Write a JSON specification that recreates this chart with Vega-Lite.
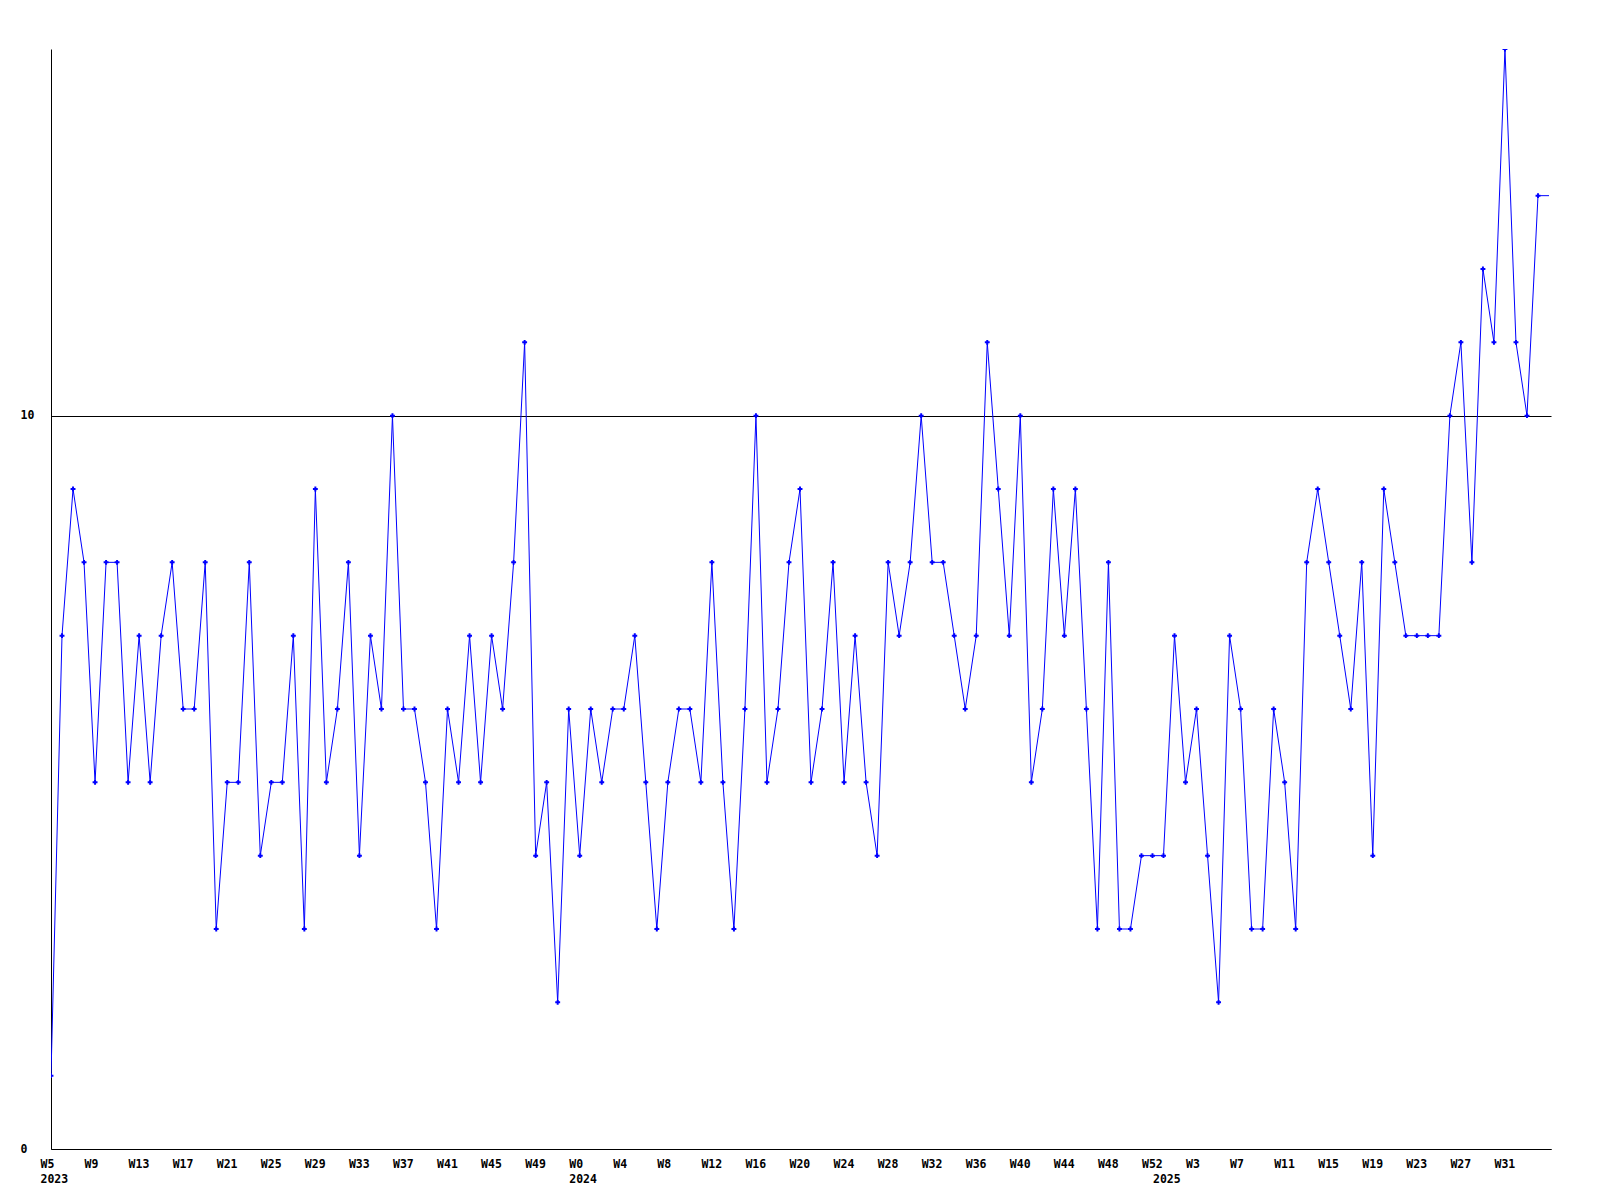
{
  "$schema": "https://vega.github.io/schema/vega-lite/v6.json",
  "width": 1500,
  "height": 1100,
  "autosize": "none",
  "padding": {"left": 51, "top": 49, "right": 49, "bottom": 51},
  "background": "white",
  "config": {
    "view": {"stroke": null},
    "font": "DejaVu Sans Mono",
    "axis": {
      "labelFont": "DejaVu Sans Mono",
      "labelFontWeight": "bold",
      "labelFontSize": 11.5,
      "labelColor": "black",
      "domainColor": "black",
      "domainWidth": 1,
      "ticks": false,
      "tickSize": 0,
      "title": null,
      "labelOverlap": false,
      "labelFlush": false,
      "labelBound": false
    }
  },
  "data": {
    "values": [
      {"i": 0, "year": 2023, "week": 5, "n": 1},
      {"i": 1, "year": 2023, "week": 6, "n": 7},
      {"i": 2, "year": 2023, "week": 7, "n": 9},
      {"i": 3, "year": 2023, "week": 8, "n": 8},
      {"i": 4, "year": 2023, "week": 9, "n": 5},
      {"i": 5, "year": 2023, "week": 10, "n": 8},
      {"i": 6, "year": 2023, "week": 11, "n": 8},
      {"i": 7, "year": 2023, "week": 12, "n": 5},
      {"i": 8, "year": 2023, "week": 13, "n": 7},
      {"i": 9, "year": 2023, "week": 14, "n": 5},
      {"i": 10, "year": 2023, "week": 15, "n": 7},
      {"i": 11, "year": 2023, "week": 16, "n": 8},
      {"i": 12, "year": 2023, "week": 17, "n": 6},
      {"i": 13, "year": 2023, "week": 18, "n": 6},
      {"i": 14, "year": 2023, "week": 19, "n": 8},
      {"i": 15, "year": 2023, "week": 20, "n": 3},
      {"i": 16, "year": 2023, "week": 21, "n": 5},
      {"i": 17, "year": 2023, "week": 22, "n": 5},
      {"i": 18, "year": 2023, "week": 23, "n": 8},
      {"i": 19, "year": 2023, "week": 24, "n": 4},
      {"i": 20, "year": 2023, "week": 25, "n": 5},
      {"i": 21, "year": 2023, "week": 26, "n": 5},
      {"i": 22, "year": 2023, "week": 27, "n": 7},
      {"i": 23, "year": 2023, "week": 28, "n": 3},
      {"i": 24, "year": 2023, "week": 29, "n": 9},
      {"i": 25, "year": 2023, "week": 30, "n": 5},
      {"i": 26, "year": 2023, "week": 31, "n": 6},
      {"i": 27, "year": 2023, "week": 32, "n": 8},
      {"i": 28, "year": 2023, "week": 33, "n": 4},
      {"i": 29, "year": 2023, "week": 34, "n": 7},
      {"i": 30, "year": 2023, "week": 35, "n": 6},
      {"i": 31, "year": 2023, "week": 36, "n": 10},
      {"i": 32, "year": 2023, "week": 37, "n": 6},
      {"i": 33, "year": 2023, "week": 38, "n": 6},
      {"i": 34, "year": 2023, "week": 39, "n": 5},
      {"i": 35, "year": 2023, "week": 40, "n": 3},
      {"i": 36, "year": 2023, "week": 41, "n": 6},
      {"i": 37, "year": 2023, "week": 42, "n": 5},
      {"i": 38, "year": 2023, "week": 43, "n": 7},
      {"i": 39, "year": 2023, "week": 44, "n": 5},
      {"i": 40, "year": 2023, "week": 45, "n": 7},
      {"i": 41, "year": 2023, "week": 46, "n": 6},
      {"i": 42, "year": 2023, "week": 47, "n": 8},
      {"i": 43, "year": 2023, "week": 48, "n": 11},
      {"i": 44, "year": 2023, "week": 49, "n": 4},
      {"i": 45, "year": 2023, "week": 50, "n": 5},
      {"i": 46, "year": 2023, "week": 51, "n": 2},
      {"i": 47, "year": 2023, "week": 52, "n": 6},
      {"i": 48, "year": 2024, "week": 0, "n": 4},
      {"i": 49, "year": 2024, "week": 1, "n": 6},
      {"i": 50, "year": 2024, "week": 2, "n": 5},
      {"i": 51, "year": 2024, "week": 3, "n": 6},
      {"i": 52, "year": 2024, "week": 4, "n": 6},
      {"i": 53, "year": 2024, "week": 5, "n": 7},
      {"i": 54, "year": 2024, "week": 6, "n": 5},
      {"i": 55, "year": 2024, "week": 7, "n": 3},
      {"i": 56, "year": 2024, "week": 8, "n": 5},
      {"i": 57, "year": 2024, "week": 9, "n": 6},
      {"i": 58, "year": 2024, "week": 10, "n": 6},
      {"i": 59, "year": 2024, "week": 11, "n": 5},
      {"i": 60, "year": 2024, "week": 12, "n": 8},
      {"i": 61, "year": 2024, "week": 13, "n": 5},
      {"i": 62, "year": 2024, "week": 14, "n": 3},
      {"i": 63, "year": 2024, "week": 15, "n": 6},
      {"i": 64, "year": 2024, "week": 16, "n": 10},
      {"i": 65, "year": 2024, "week": 17, "n": 5},
      {"i": 66, "year": 2024, "week": 18, "n": 6},
      {"i": 67, "year": 2024, "week": 19, "n": 8},
      {"i": 68, "year": 2024, "week": 20, "n": 9},
      {"i": 69, "year": 2024, "week": 21, "n": 5},
      {"i": 70, "year": 2024, "week": 22, "n": 6},
      {"i": 71, "year": 2024, "week": 23, "n": 8},
      {"i": 72, "year": 2024, "week": 24, "n": 5},
      {"i": 73, "year": 2024, "week": 25, "n": 7},
      {"i": 74, "year": 2024, "week": 26, "n": 5},
      {"i": 75, "year": 2024, "week": 27, "n": 4},
      {"i": 76, "year": 2024, "week": 28, "n": 8},
      {"i": 77, "year": 2024, "week": 29, "n": 7},
      {"i": 78, "year": 2024, "week": 30, "n": 8},
      {"i": 79, "year": 2024, "week": 31, "n": 10},
      {"i": 80, "year": 2024, "week": 32, "n": 8},
      {"i": 81, "year": 2024, "week": 33, "n": 8},
      {"i": 82, "year": 2024, "week": 34, "n": 7},
      {"i": 83, "year": 2024, "week": 35, "n": 6},
      {"i": 84, "year": 2024, "week": 36, "n": 7},
      {"i": 85, "year": 2024, "week": 37, "n": 11},
      {"i": 86, "year": 2024, "week": 38, "n": 9},
      {"i": 87, "year": 2024, "week": 39, "n": 7},
      {"i": 88, "year": 2024, "week": 40, "n": 10},
      {"i": 89, "year": 2024, "week": 41, "n": 5},
      {"i": 90, "year": 2024, "week": 42, "n": 6},
      {"i": 91, "year": 2024, "week": 43, "n": 9},
      {"i": 92, "year": 2024, "week": 44, "n": 7},
      {"i": 93, "year": 2024, "week": 45, "n": 9},
      {"i": 94, "year": 2024, "week": 46, "n": 6},
      {"i": 95, "year": 2024, "week": 47, "n": 3},
      {"i": 96, "year": 2024, "week": 48, "n": 8},
      {"i": 97, "year": 2024, "week": 49, "n": 3},
      {"i": 98, "year": 2024, "week": 50, "n": 3},
      {"i": 99, "year": 2024, "week": 51, "n": 4},
      {"i": 100, "year": 2024, "week": 52, "n": 4},
      {"i": 101, "year": 2025, "week": 0, "n": 4},
      {"i": 102, "year": 2025, "week": 1, "n": 7},
      {"i": 103, "year": 2025, "week": 2, "n": 5},
      {"i": 104, "year": 2025, "week": 3, "n": 6},
      {"i": 105, "year": 2025, "week": 4, "n": 4},
      {"i": 106, "year": 2025, "week": 5, "n": 2},
      {"i": 107, "year": 2025, "week": 6, "n": 7},
      {"i": 108, "year": 2025, "week": 7, "n": 6},
      {"i": 109, "year": 2025, "week": 8, "n": 3},
      {"i": 110, "year": 2025, "week": 9, "n": 3},
      {"i": 111, "year": 2025, "week": 10, "n": 6},
      {"i": 112, "year": 2025, "week": 11, "n": 5},
      {"i": 113, "year": 2025, "week": 12, "n": 3},
      {"i": 114, "year": 2025, "week": 13, "n": 8},
      {"i": 115, "year": 2025, "week": 14, "n": 9},
      {"i": 116, "year": 2025, "week": 15, "n": 8},
      {"i": 117, "year": 2025, "week": 16, "n": 7},
      {"i": 118, "year": 2025, "week": 17, "n": 6},
      {"i": 119, "year": 2025, "week": 18, "n": 8},
      {"i": 120, "year": 2025, "week": 19, "n": 4},
      {"i": 121, "year": 2025, "week": 20, "n": 9},
      {"i": 122, "year": 2025, "week": 21, "n": 8},
      {"i": 123, "year": 2025, "week": 22, "n": 7},
      {"i": 124, "year": 2025, "week": 23, "n": 7},
      {"i": 125, "year": 2025, "week": 24, "n": 7},
      {"i": 126, "year": 2025, "week": 25, "n": 7},
      {"i": 127, "year": 2025, "week": 26, "n": 10},
      {"i": 128, "year": 2025, "week": 27, "n": 11},
      {"i": 129, "year": 2025, "week": 28, "n": 8},
      {"i": 130, "year": 2025, "week": 29, "n": 12},
      {"i": 131, "year": 2025, "week": 30, "n": 11},
      {"i": 132, "year": 2025, "week": 31, "n": 15},
      {"i": 133, "year": 2025, "week": 32, "n": 11},
      {"i": 134, "year": 2025, "week": 33, "n": 10},
      {"i": 135, "year": 2025, "week": 34, "n": 13},
      {"i": 136, "year": 2025, "week": 35, "n": 13}
    ]
  },
  "encoding": {
    "x": {
      "field": "i",
      "type": "quantitative",
      "scale": {"domain": [0, 136.18], "nice": false, "zero": false},
      "axis": {
        "values": [0, 4, 8, 12, 16, 20, 24, 28, 32, 36, 40, 44, 48, 52, 56, 60, 64, 68, 72, 76, 80, 84, 88, 92, 96, 100, 101, 104, 108, 112, 116, 120, 124, 128, 132],
        "grid": false,
        "labelAlign": "left",
        "labelBaseline": "top",
        "labelOffset": -11,
        "labelPadding": 9,
        "labelLineHeight": 15.2,
        "labelExpr": "datum.value == 0 ? ['W5', '2023'] : datum.value == 48 ? ['W0', '2024'] : datum.value == 101 ? ['', '2025'] : datum.value < 48 ? 'W' + (datum.value + 5) : datum.value < 101 ? 'W' + (datum.value - 48) : 'W' + (datum.value - 101)"
      }
    },
    "y": {
      "field": "n",
      "type": "quantitative",
      "scale": {"domain": [0, 15], "nice": false},
      "axis": {
        "values": [0, 10],
        "grid": true,
        "gridColor": "black",
        "gridOpacity": 1,
        "gridWidth": 1,
        "labelAlign": "left",
        "labelBaseline": "middle",
        "labelPadding": 31
      }
    }
  },
  "layer": [
    {
      "mark": {"type": "line", "color": "#0000ff", "strokeWidth": 1, "clip": true}
    },
    {
      "transform": [{"filter": "datum.i <= 135"}],
      "mark": {"type": "point", "shape": "cross", "filled": true, "color": "#0000ff", "size": 24, "opacity": 1, "clip": true}
    }
  ]
}
